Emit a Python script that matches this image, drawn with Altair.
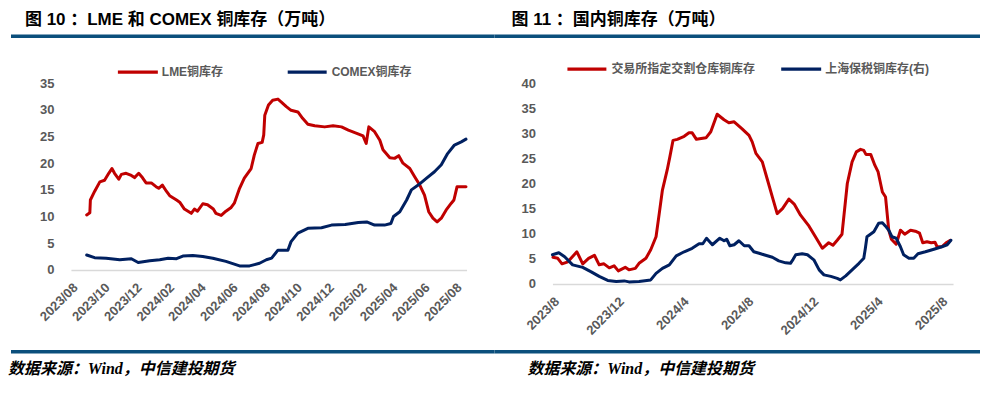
import altair as alt
import pandas as pd

# ---------------- data ----------------
lme_dates = ["2023-08-31","2023-09-06","2023-09-07","2023-09-15","2023-09-25","2023-10-04","2023-10-12","2023-10-18","2023-10-23","2023-10-31",
             "2023-11-05","2023-11-14","2023-11-24","2023-11-30","2023-12-08","2023-12-15","2023-12-22","2024-01-01","2024-01-10","2024-01-15",
             "2024-01-22","2024-01-30","2024-02-05","2024-02-18","2024-02-24","2024-03-04","2024-03-17","2024-03-23","2024-03-29","2024-04-08",
             "2024-04-17","2024-04-28","2024-05-03","2024-05-13","2024-05-22","2024-06-01","2024-06-07","2024-06-17","2024-06-26","2024-07-09",
             "2024-07-15","2024-07-22","2024-07-30","2024-08-02","2024-08-04","2024-08-11","2024-08-19","2024-08-29","2024-09-04","2024-09-14",
             "2024-09-23","2024-10-06","2024-10-15","2024-10-25","2024-11-07","2024-11-26","2024-12-12","2024-12-28","2025-01-10","2025-01-26",
             "2025-02-07","2025-02-13","2025-02-18","2025-03-01","2025-03-11","2025-03-17","2025-03-30","2025-04-08","2025-04-16","2025-04-24",
             "2025-05-07","2025-05-16","2025-05-26","2025-06-04","2025-06-12","2025-06-20","2025-06-28","2025-07-06","2025-07-15","2025-07-25",
             "2025-07-30","2025-08-05","2025-08-22"]
lme_values = [10.3,10.7,13.1,14.7,16.5,16.8,18.1,19.0,18.1,17.0,
              17.9,18.1,17.7,17.3,18.1,17.3,16.3,16.3,15.6,15.3,
              15.9,14.7,13.9,13.1,12.7,11.4,10.6,11.4,11.0,12.4,
              12.2,11.4,10.6,10.2,11.0,11.7,12.5,15.3,17.2,19.0,
              21.5,23.7,23.9,25.3,29.0,30.9,31.8,32.0,31.5,30.6,
              29.9,29.6,28.4,27.3,27.0,26.8,27.0,26.8,26.2,25.6,
              25.1,23.7,26.8,25.9,24.3,22.5,21.0,20.9,21.4,20.0,
              19.0,17.5,15.9,14.0,10.9,9.7,9.0,9.7,11.2,12.5,
              13.1,15.6,15.6]

comex_dates = ["2023-08-31","2023-09-15","2023-10-07","2023-11-02","2023-11-24","2023-12-07","2023-12-29","2024-01-17","2024-02-02","2024-02-18",
               "2024-03-01","2024-03-20","2024-04-08","2024-04-27","2024-05-22","2024-06-17","2024-07-06","2024-07-25","2024-08-07","2024-08-17",
               "2024-08-29","2024-09-17","2024-09-23","2024-10-06","2024-10-25","2024-11-20","2024-12-09","2025-01-04","2025-01-29","2025-02-14",
               "2025-03-01","2025-03-20","2025-04-01","2025-04-06","2025-04-18","2025-05-01","2025-05-10","2025-05-23","2025-06-08","2025-06-23",
               "2025-07-06","2025-07-18","2025-07-31","2025-08-13","2025-08-22"]
comex_values = [2.8,2.3,2.2,1.9,2.1,1.4,1.7,1.9,2.2,2.1,
                2.6,2.7,2.5,2.2,1.6,0.75,0.75,1.25,1.9,2.2,
                3.7,3.7,5.3,6.9,7.8,7.9,8.4,8.5,8.9,9.0,
                8.4,8.4,8.7,10.0,10.9,13.1,15.0,15.9,17.2,18.4,
                19.7,21.8,23.4,24.0,24.5]

shfe_dates = ["2023-08-02","2023-08-11","2023-08-19","2023-08-30","2023-09-16","2023-09-27","2023-10-08","2023-10-19","2023-10-28","2023-11-06",
              "2023-11-16","2023-11-25","2023-12-03","2023-12-16","2023-12-23","2024-01-04","2024-01-11","2024-01-24","2024-02-02","2024-02-12",
              "2024-02-18","2024-02-24","2024-03-04","2024-03-09","2024-03-15","2024-03-23","2024-04-05","2024-04-14","2024-04-20","2024-04-28",
              "2024-05-16","2024-05-25","2024-06-06","2024-06-19","2024-06-28","2024-07-08","2024-07-23","2024-08-05","2024-08-11","2024-08-18",
              "2024-08-30","2024-09-08","2024-09-18","2024-09-27","2024-10-07","2024-10-19","2024-10-29","2024-11-10","2024-11-26","2024-12-08",
              "2024-12-21","2025-01-02","2025-01-10","2025-01-18","2025-01-27","2025-02-06","2025-02-15","2025-02-23","2025-03-03","2025-03-09",
              "2025-03-13","2025-03-22","2025-03-30","2025-04-05","2025-04-13","2025-04-19","2025-04-25","2025-04-30","2025-05-09","2025-05-17",
              "2025-05-25","2025-06-05","2025-06-14","2025-06-22","2025-06-28","2025-07-06","2025-07-14","2025-07-21","2025-07-25","2025-08-03",
              "2025-08-11","2025-08-19"]
shfe_values = [5.3,5.1,4.0,4.4,6.4,4.0,5.1,5.7,3.8,4.0,
               3.2,3.6,2.6,3.3,2.8,3.1,4.1,5.1,6.8,9.4,
               14.0,18.7,22.7,25.3,28.6,28.8,29.4,30.1,30.1,28.8,
               29.1,30.3,33.8,32.7,32.1,32.3,30.9,29.6,28.3,26.0,
               24.3,21.0,17.3,14.0,15.0,16.9,15.9,13.7,11.5,9.4,
               7.1,8.2,7.7,8.7,9.9,20.0,24.3,26.3,26.8,26.6,
               25.8,25.8,23.6,22.3,18.3,17.3,10.7,8.9,7.9,10.7,
               9.9,10.7,10.5,10.1,8.2,8.4,8.2,8.3,7.4,7.4,
               8.2,8.7]

bonded_dates = ["2023-08-01","2023-08-13","2023-08-24","2023-09-08","2023-09-27","2023-10-13","2023-10-28","2023-11-13","2023-11-29","2023-12-14",
                "2023-12-23","2024-01-11","2024-02-02","2024-02-12","2024-02-24","2024-03-08","2024-03-21","2024-04-05","2024-04-20","2024-05-03",
                "2024-05-10","2024-05-17","2024-05-28","2024-06-11","2024-06-19","2024-06-24","2024-06-30","2024-07-08","2024-07-17","2024-07-27",
                "2024-08-05","2024-08-14","2024-08-24","2024-09-02","2024-09-18","2024-09-30","2024-10-13","2024-10-22","2024-10-27","2024-11-01",
                "2024-11-13","2024-11-23","2024-12-05","2024-12-15","2024-12-24","2025-01-06","2025-01-18","2025-01-24","2025-02-03","2025-02-15",
                "2025-02-28","2025-03-09","2025-03-12","2025-03-15","2025-03-28","2025-04-06","2025-04-13","2025-04-19","2025-04-25","2025-05-01",
                "2025-05-09","2025-05-17","2025-05-23","2025-06-02","2025-06-11","2025-06-19","2025-07-03","2025-07-19","2025-08-03","2025-08-13",
                "2025-08-20"]
bonded_values = [5.8,6.2,5.4,3.8,3.3,2.4,1.5,0.7,0.5,0.6,
                 0.4,0.5,0.8,2.1,3.1,3.8,5.6,6.4,7.1,8.0,
                 8.0,9.1,7.8,9.1,8.6,8.9,7.6,7.8,8.6,7.6,
                 7.6,6.4,6.1,5.8,5.3,4.6,4.2,4.1,4.9,5.8,
                 6.0,5.8,4.8,2.8,1.8,1.5,1.1,0.8,1.6,2.8,
                 4.1,5.1,7.1,9.4,10.4,12.1,12.2,11.5,10.7,9.4,
                 9.1,7.4,5.8,5.1,5.1,6.0,6.4,6.9,7.4,7.8,
                 8.7]

left_series = ["LME铜库存", "COMEX铜库存"]
right_series = ["交易所指定交割仓库铜库存", "上海保税铜库存(右)"]
left_title = "图 10 ：LME 和 COMEX 铜库存（万吨）"
right_title = "图 11 ：国内铜库存（万吨）"
source_text = "数据来源：Wind，中信建投期货"
left_y_ticks = [0, 5, 10, 15, 20, 25, 30, 35]
right_y_ticks = [0, 5, 10, 15, 20, 25, 30, 35, 40]
left_x_ticks = [(2023, 8), (2023, 10), (2023, 12), (2024, 2), (2024, 4), (2024, 6), (2024, 8),
                (2024, 10), (2024, 12), (2025, 2), (2025, 4), (2025, 6), (2025, 8)]
right_x_ticks = [(2023, 8), (2023, 12), (2024, 4), (2024, 8), (2024, 12), (2025, 4), (2025, 8)]

# ---------------- styling ----------------
RED = "#c00000"
BLUE = "#002060"
BAR = "#0b4f7c"
GRAY = "#595959"
SANS = "Liberation Sans, Arial, Noto Sans CJK SC"
SERIF = "Liberation Serif, Times New Roman, Noto Sans CJK SC"


def dt(y, m, d=1):
    return alt.DateTime(year=y, month=m, date=d, utc=True)


def deco_text(text, x, y, size, color, weight="bold", style="normal", font=SANS):
    return alt.Chart(pd.DataFrame({"t": [text]})).mark_text(
        align="left", baseline="middle", fontSize=size, fontWeight=weight,
        fontStyle=style, color=color, font=font
    ).encode(text="t:N", x=alt.value(x), y=alt.value(y))


def deco_rule(x1, x2, y, color, width):
    return alt.Chart(pd.DataFrame({"a": [0]})).mark_rule(
        color=color, strokeWidth=width
    ).encode(x=alt.value(x1), x2=alt.value(x2), y=alt.value(y))


def panel(series, dates_list, values_list, x_domain, x_ticks, fmt, y_max, y_ticks,
          w, h, title, title_x, legend_pos, rule_x, src_x):
    rows = []
    for s, ds, vs in zip(series, dates_list, values_list):
        assert len(ds) == len(vs), s
        rows += [{"date": d, "value": v, "series": s} for d, v in zip(ds, vs)]
    df = pd.DataFrame(rows)
    lines = alt.Chart(df).mark_line(strokeWidth=3, strokeJoin="round", strokeCap="round").encode(
        x=alt.X("date:T",
                scale=alt.Scale(type="utc", domain=[dt(*x_domain[0]), dt(*x_domain[1])]),
                axis=alt.Axis(values=[dt(y, m) for y, m in x_ticks], format=fmt, title=None,
                              labelAngle=-45, labelAlign="right", labelBaseline="top",
                              labelPadding=11, ticks=False, grid=False, labelFlush=False,
                              labelOverlap=False, domainColor="#d9d9d9", domainWidth=1.5,
                              labelFont=SANS, labelFontSize=13, labelFontWeight="bold",
                              labelColor=GRAY)),
        y=alt.Y("value:Q",
                scale=alt.Scale(domain=[0, y_max], nice=False),
                axis=alt.Axis(values=y_ticks, title=None, domain=False, ticks=False, grid=False,
                              labelPadding=17, labelFont=SANS, labelFontSize=13,
                              labelFontWeight="bold", labelColor=GRAY)),
        color=alt.Color("series:N", scale=alt.Scale(domain=series, range=[RED, BLUE]), legend=None),
    )
    layers = [lines,
              deco_text(title, title_x, -63, 17, "#000000"),
              deco_rule(rule_x[0], rule_x[1], -47, BAR, 3.5),
              deco_rule(rule_x[0], rule_x[1], 269, BAR, 3.5),
              deco_text(source_text, src_x, 286, 16, "#000000", weight="bold", style="italic", font=SERIF)]
    for (lx1, lx2, ly, tx), s, c in zip(legend_pos, series, [RED, BLUE]):
        layers.append(deco_rule(lx1, lx2, ly, c, 3.5))
        layers.append(deco_text(s, tx, ly, 12, GRAY))
    return alt.layer(*layers).properties(width=w, height=h)


left = panel(left_series, [lme_dates, comex_dates], [lme_values, comex_values],
             [(2023, 8, 1), (2025, 8, 23)], left_x_ticks, "%Y/%m", 35, left_y_ticks,
             396, 187, left_title, -46,
             [(47, 87, -11, 91), (217, 256, -11, 261)], (-60, 424), -63)
right = panel(right_series, [shfe_dates, bonded_dates], [shfe_values, bonded_values],
              [(2023, 8, 1), (2025, 8, 24)], right_x_ticks, "%Y/%-m", 40, right_y_ticks,
              401, 201, right_title, -41,
              [(15, 54, -14, 59), (229, 269, -14, 273)], (-58, 428), -25)

chart = alt.hconcat(left, right, spacing=86, bounds="flush").configure_view(
    stroke=None
).properties(
    padding={"left": 0, "top": 3, "right": 0, "bottom": 0},
    background="#ffffff",
)

chart.save("out.html", embed_options={"renderer": "svg", "actions": False})
